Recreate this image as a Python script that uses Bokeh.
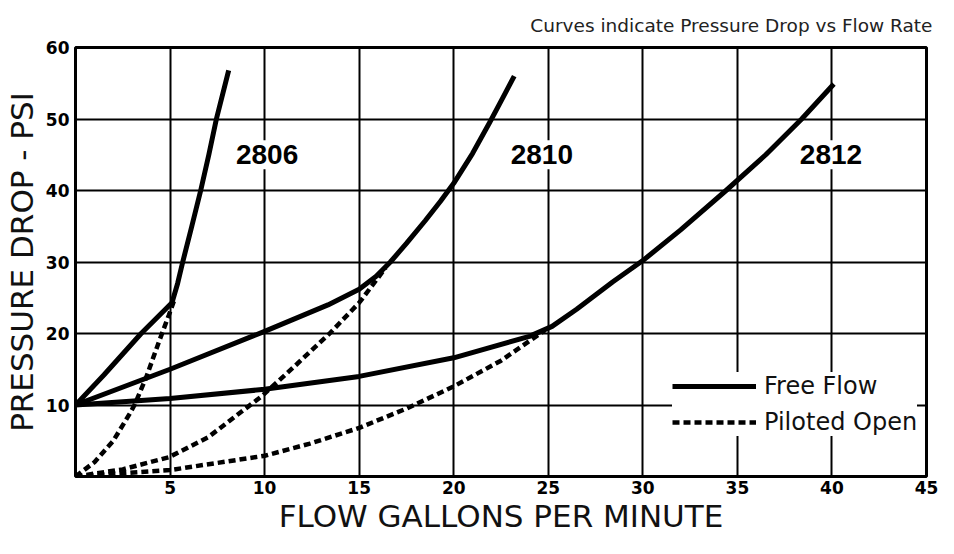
from bokeh.plotting import figure
from bokeh.models import Label, Legend, LegendItem, FixedTicker, Range1d
from bokeh.embed import file_html
from bokeh.resources import INLINE

# ---------------- data ----------------
x_ticks = [5, 10, 15, 20, 25, 30, 35, 40, 45]
y_ticks = [10, 20, 30, 40, 50, 60]

# Free Flow (solid)
free_2806_x = [0, 1.5, 3.47, 5.1, 5.4, 5.67, 6.15, 6.62, 7.05, 7.45, 8.1]
free_2806_y = [10, 14.2, 20, 24.3, 27, 30, 35, 40, 45, 50, 56.8]

free_2810_x = [0, 5, 10, 13.35, 15, 15.9, 16.65, 17.5, 18.5, 19.3, 20, 21, 21.9, 22.6, 23.2]
free_2810_y = [10, 15, 20.3, 24, 26.2, 28, 30, 32.6, 35.8, 38.5, 41, 45.2, 49.5, 53, 56]

free_2812_x = [0, 5, 10, 15, 20, 24, 25.2, 26.5, 28.4, 30, 32, 34.4, 36.5, 38.4, 40.1]
free_2812_y = [10, 10.9, 12.2, 14.0, 16.6, 19.6, 21.0, 23.4, 27.2, 30.2, 34.5, 40, 45, 50, 54.9]

# Piloted Open (dashed)
pil_2806_x = [0, 1.0, 2.0, 2.86, 3.12, 3.73, 4.42, 4.94, 5.2]
pil_2806_y = [0, 2.0, 5.0, 8.75, 10, 13.8, 18.9, 22.6, 24.5]

pil_2810_x = [0, 2.5, 4.94, 7.02, 9.88, 11.7, 13.4, 15, 16.4]
pil_2810_y = [0, 1.0, 2.7, 5.5, 11.3, 15.7, 19.9, 24.3, 29.2]

pil_2812_x = [0, 5, 10, 12.4, 15, 17.5, 20, 22.5, 24.8]
pil_2812_y = [0, 0.9, 2.9, 4.6, 6.8, 9.5, 12.6, 16.2, 20.4]

model_names = ["2806", "2810", "2812"]
model_label_x = [10.13, 24.66, 39.95]
model_label_y = [45, 45, 45]

title_text = "Curves indicate Pressure Drop vs Flow Rate"
x_title = "FLOW GALLONS PER MINUTE"
y_title = "PRESSURE DROP - PSI"
legend_labels = ["Free Flow", "Piloted Open"]

# ---------------- figure ----------------
p = figure(width=938, height=538,
           x_range=Range1d(0, 45), y_range=Range1d(0, 60),
           output_backend="svg", toolbar_location=None,
           min_border_left=75, min_border_right=12,
           min_border_top=47, min_border_bottom=62,
           title=title_text)

p.background_fill_color = "white"
p.border_fill_color = "white"
p.outline_line_color = "black"
p.outline_line_width = 3

p.title.align = "right"
p.title.text_font = "DejaVu Sans"
p.title.text_font_size = "18.5px"
p.title.text_font_style = "normal"
p.title.text_color = "#222222"
p.title.standoff = 24
p.title.offset = -6

# grid
p.xgrid.ticker = FixedTicker(ticks=x_ticks[:-1])
p.ygrid.ticker = FixedTicker(ticks=y_ticks[:-1])
for g in (p.xgrid, p.ygrid):
    g.grid_line_color = "black"
    g.grid_line_width = 2
    g.grid_line_alpha = 1.0

# axes
p.xaxis.ticker = FixedTicker(ticks=x_ticks)
p.yaxis.ticker = FixedTicker(ticks=y_ticks)
for ax in (p.xaxis, p.yaxis):
    ax.axis_line_color = None
    ax.major_tick_in = 0
    ax.major_tick_out = 0
    ax.minor_tick_line_color = None
    ax.major_label_text_font = "DejaVu Sans"
    ax.major_label_text_font_style = "bold"
    ax.major_label_text_font_size = "17px"
    ax.major_label_text_color = "black"
    ax.axis_label_text_font = "DejaVu Sans"
    ax.axis_label_text_font_style = "normal"
    ax.axis_label_text_color = "#111111"

p.xaxis.axis_label = x_title
p.yaxis.axis_label = y_title
p.xaxis.axis_label_text_font_size = "31px"
p.yaxis.axis_label_text_font_size = "31px"
p.xaxis.major_label_standoff = 4
p.yaxis.major_label_standoff = 6
p.xaxis.axis_label_standoff = 1
p.yaxis.axis_label_standoff = 3

# curves
solid_kw = dict(line_color="black", line_width=5, line_join="round")
dash_kw = dict(line_color="black", line_width=4.5, line_dash="7 4")

r_f1 = p.line(free_2806_x, free_2806_y, **solid_kw)
p.line(free_2810_x, free_2810_y, **solid_kw)
p.line(free_2812_x, free_2812_y, **solid_kw)

r_p1 = p.line(pil_2806_x, pil_2806_y, **dash_kw)
p.line(pil_2810_x, pil_2810_y, **dash_kw)
p.line(pil_2812_x, pil_2812_y, **dash_kw)

# model labels
for name, lx, ly in zip(model_names, model_label_x, model_label_y):
    p.add_layout(Label(x=lx, y=ly, text=name, text_align="center",
                       text_baseline="middle", text_font="Liberation Sans",
                       text_font_style="bold", text_font_size="28px",
                       text_color="black", background_fill_color="white",
                       background_fill_alpha=1.0, padding=5))

legend = Legend(items=[LegendItem(label=legend_labels[0], renderers=[r_f1]),
                       LegendItem(label=legend_labels[1], renderers=[r_p1])],
                location=(597, 40),
                background_fill_color="white", background_fill_alpha=1.0,
                border_line_color=None, padding=4, spacing=8, margin=0,
                glyph_width=84, glyph_height=28, label_height=28,
                label_standoff=8, label_text_font="DejaVu Sans",
                label_text_font_size="24px", label_text_color="#111111")
p.add_layout(legend)

open("out.html", "w").write(file_html(p, INLINE))
